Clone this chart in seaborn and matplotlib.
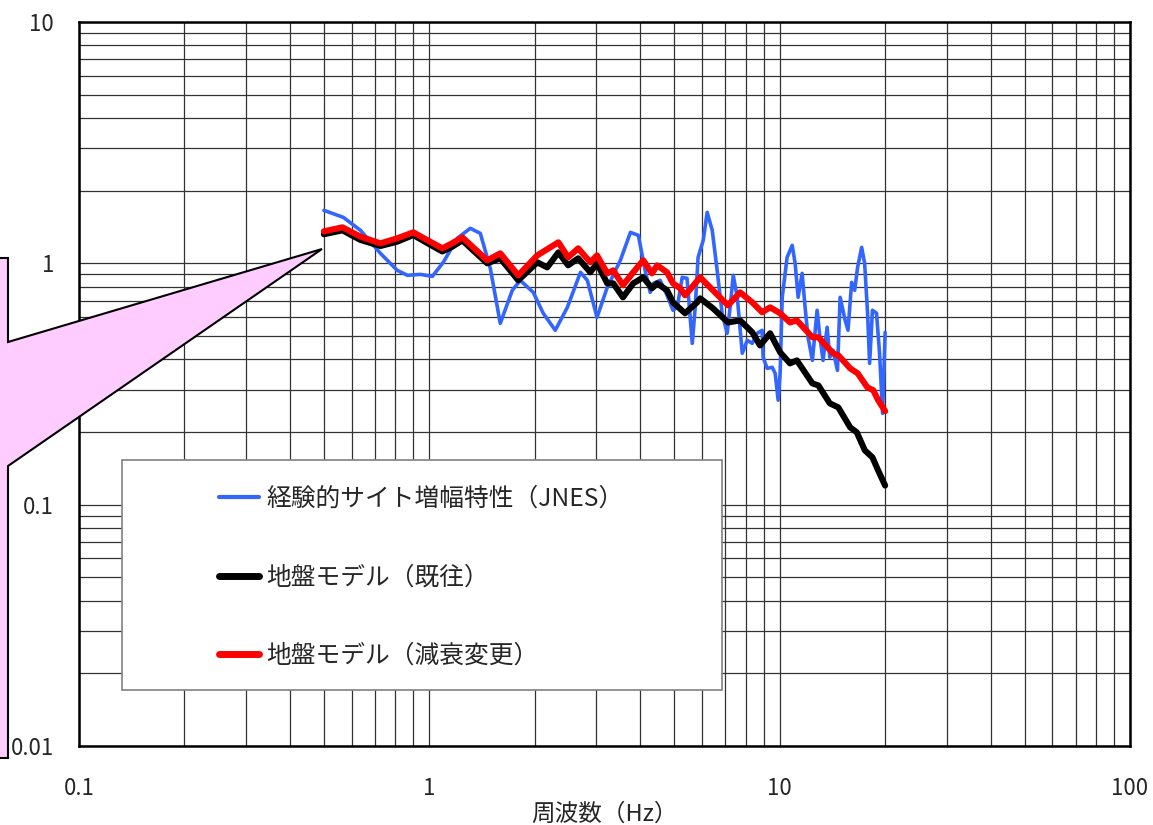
import matplotlib
matplotlib.use("Agg")
import matplotlib.pyplot as plt
import numpy as np
import pandas as pd
import seaborn as sns
from matplotlib.patches import Polygon, Rectangle
from matplotlib.lines import Line2D
from matplotlib.ticker import FixedLocator, FixedFormatter, LogLocator, NullFormatter

sns.set_style("white")
plt.rcParams["font.family"] = ["Noto Sans CJK JP", "DejaVu Sans"]

# ---------------- data ----------------
freq_jnes = [0.5, 0.568, 0.636, 0.725, 0.81, 0.866, 0.943, 1.02, 1.096, 1.202, 1.309, 1.398,
             1.493, 1.594, 1.725, 1.818, 1.98, 2.114, 2.288, 2.477, 2.70, 2.825, 3.01, 3.22,
             3.51, 3.75, 3.95, 4.13, 4.27, 4.36, 4.56, 4.77, 4.96, 5.10, 5.27, 5.44, 5.63,
             5.74, 5.85, 6.05, 6.21, 6.42, 6.63, 6.85, 7.08, 7.22, 7.37, 7.57, 7.82, 8.08,
             8.35, 8.63, 8.91, 8.97, 9.21, 9.52, 9.71, 9.90, 10.03, 10.17, 10.5, 10.86,
             11.07, 11.29, 11.59, 11.82, 12.05, 12.4, 12.79, 13.03, 13.3, 13.66, 13.9, 14.2,
             14.62, 14.88, 15.38, 15.67, 16.05, 16.37, 16.69, 17.14, 17.48, 17.82, 18.06,
             18.4, 18.9, 19.28, 19.67, 20.0]
amp_jnes = [1.658, 1.551, 1.37, 1.10, 0.935, 0.892, 0.90, 0.883, 1.01, 1.27, 1.397, 1.331,
            0.953, 0.564, 0.773, 0.85, 0.758, 0.621, 0.528, 0.657, 0.918, 0.85, 0.597, 0.795,
            1.029, 1.344, 1.306, 0.935, 0.758, 0.826, 0.85, 0.737, 0.639, 0.657, 0.875, 0.867,
            0.466, 0.657, 1.059, 1.245, 1.626, 1.37, 0.935, 0.621, 0.513, 0.657, 0.892, 0.723,
            0.424, 0.48, 0.466, 0.513, 0.528, 0.408, 0.367, 0.371, 0.35, 0.271, 0.35, 0.723,
            1.059, 1.187, 1.0, 0.723, 0.909, 0.657, 0.494, 0.396, 0.639, 0.494, 0.396, 0.543,
            0.408, 0.436, 0.36, 0.723, 0.58, 0.528, 0.834, 0.773, 0.962, 1.165, 1.0, 0.621,
            0.385, 0.639, 0.621, 0.424, 0.239, 0.518]

freq_old = [0.5, 0.565, 0.636, 0.725, 0.81, 0.90, 0.99, 1.089, 1.16, 1.242, 1.353, 1.463,
            1.594, 1.794, 2.033, 2.17, 2.335, 2.49, 2.66, 2.88, 3.01, 3.22, 3.35, 3.57, 3.82,
            4.08, 4.32, 4.47, 4.77, 4.96, 5.37, 5.81, 5.93, 6.45, 7.12, 7.71, 8.35, 8.79,
            9.39, 10.03, 10.7, 11.2, 12.4, 12.9, 13.9, 14.7, 15.9, 16.6, 17.5, 18.4, 19.1,
            20.0]
amp_old = [1.32, 1.37, 1.25, 1.18, 1.23, 1.31, 1.21, 1.12, 1.17, 1.245, 1.11, 1.0, 1.049,
           0.85, 1.01, 0.962, 1.11, 0.981, 1.049, 0.918, 1.0, 0.826, 0.826, 0.723, 0.826,
           0.875, 0.788, 0.826, 0.773, 0.689, 0.621, 0.689, 0.716, 0.651, 0.569, 0.58, 0.518,
           0.457, 0.513, 0.428, 0.385, 0.396, 0.318, 0.312, 0.263, 0.253, 0.209, 0.1995,
           0.168, 0.157, 0.1387, 0.12]

freq_new = [0.5, 0.565, 0.636, 0.725, 0.81, 0.90, 0.99, 1.089, 1.16, 1.242, 1.353, 1.463,
            1.594, 1.794, 2.033, 2.335, 2.49, 2.66, 2.88, 3.01, 3.22, 3.35, 3.57, 3.82, 4.08,
            4.32, 4.47, 4.77, 4.96, 5.20, 5.37, 5.93, 6.45, 7.12, 7.71, 8.35, 8.91, 9.39,
            10.03, 10.7, 11.2, 12.4, 12.9, 14.2, 14.7, 15.9, 16.7, 17.8, 18.5, 19.1, 20.0]
amp_new = [1.357, 1.41, 1.29, 1.21, 1.27, 1.344, 1.245, 1.154, 1.21, 1.281, 1.143, 1.029,
           1.10, 0.892, 1.079, 1.222, 1.059, 1.154, 1.01, 1.079, 0.909, 0.935, 0.811, 0.918,
           1.029, 0.909, 0.981, 0.918, 0.826, 0.788, 0.737, 0.875, 0.773, 0.67, 0.758, 0.689,
           0.627, 0.657, 0.621, 0.569, 0.58, 0.494, 0.494, 0.424, 0.416, 0.367, 0.35, 0.306,
           0.298, 0.271, 0.244]

series_labels = ["経験的サイト増幅特性（JNES）", "地盤モデル（既往）", "地盤モデル（減衰変更）"]
x_ticks = [0.1, 1, 10, 100]
x_tick_labels = ["0.1", "1", "10", "100"]
y_ticks = [0.01, 0.1, 1, 10]
y_tick_labels = ["0.01", "0.1", "1", "10"]
x_label = "周波数（Hz）"

# ---------------- figure ----------------
W, H = 1153, 825
fig = plt.figure(figsize=(W / 100, H / 100), dpi=100)
ax = fig.add_axes([79 / W, 1 - 746 / H, (1130 - 79) / W, (746 - 22) / H])
ax.set_xscale("log")
ax.set_yscale("log")

colors = ["#3366FF", "#000000", "#FF0000"]
widths = [2.6, 4.4, 4.4]
datasets = [(freq_jnes, amp_jnes), (freq_old, amp_old), (freq_new, amp_new)]
for (fx, vy), c, lw, lab in zip(datasets, colors, widths, series_labels):
    df = pd.DataFrame({"f": fx, "v": vy})
    sns.lineplot(data=df, x="f", y="v", ax=ax, color=c, lw=lw, sort=False,
                 estimator=None, legend=False, zorder=3, solid_joinstyle="round",
                 solid_capstyle="round")

ax.set_xlim(0.1, 100)
ax.set_ylim(0.01, 10)
ax.xaxis.set_major_locator(FixedLocator(x_ticks))
ax.xaxis.set_major_formatter(FixedFormatter(x_tick_labels))
ax.yaxis.set_major_locator(FixedLocator(y_ticks))
ax.yaxis.set_major_formatter(FixedFormatter(y_tick_labels))
ax.xaxis.set_minor_locator(LogLocator(base=10, subs=np.arange(2, 10)))
ax.yaxis.set_minor_locator(LogLocator(base=10, subs=np.arange(2, 10)))
ax.xaxis.set_minor_formatter(NullFormatter())
ax.yaxis.set_minor_formatter(NullFormatter())
ax.grid(which="both", color="#333333", lw=0.9)
ax.set_axisbelow(True)
ax.tick_params(which="both", length=0, labelsize=16)
ax.tick_params(axis="x", pad=22)
ax.tick_params(axis="y", pad=18)
for s in ax.spines.values():
    s.set_color("black")
    s.set_linewidth(1.8)
ax.set_xlabel(x_label, fontsize=17, labelpad=2)
ax.set_ylabel("")

# legend box
ax.add_patch(Rectangle(((122 - 79) / 1051, (746 - 690) / 724), 600 / 1051, 230 / 724,
                       transform=ax.transAxes, facecolor="white", edgecolor="#808080",
                       lw=1.2, zorder=5))
handles = [Line2D([], [], color=c, lw=w) for c, w in zip(colors, [3, 5, 5])]
leg = ax.legend(handles, series_labels, loc="upper left",
                bbox_to_anchor=((219 - 79) / 1051, (746 - 486) / 724),
                frameon=False, fontsize=17.8, handlelength=1.6, handletextpad=0.3,
                labelspacing=2.12, borderpad=0, borderaxespad=0)
leg.set_zorder(6)

# pink callout
pts_px = [(-5, 258), (8, 258), (8, 342), (322, 249), (8, 466), (8, 758), (-5, 758)]
pts = [(x / W, 1 - y / H) for x, y in pts_px]
fig.add_artist(Polygon(pts, closed=True, transform=fig.transFigure, facecolor="#FFCCFF",
                       edgecolor="black", lw=1.5, zorder=4))

fig.savefig("out.png", dpi=100)
